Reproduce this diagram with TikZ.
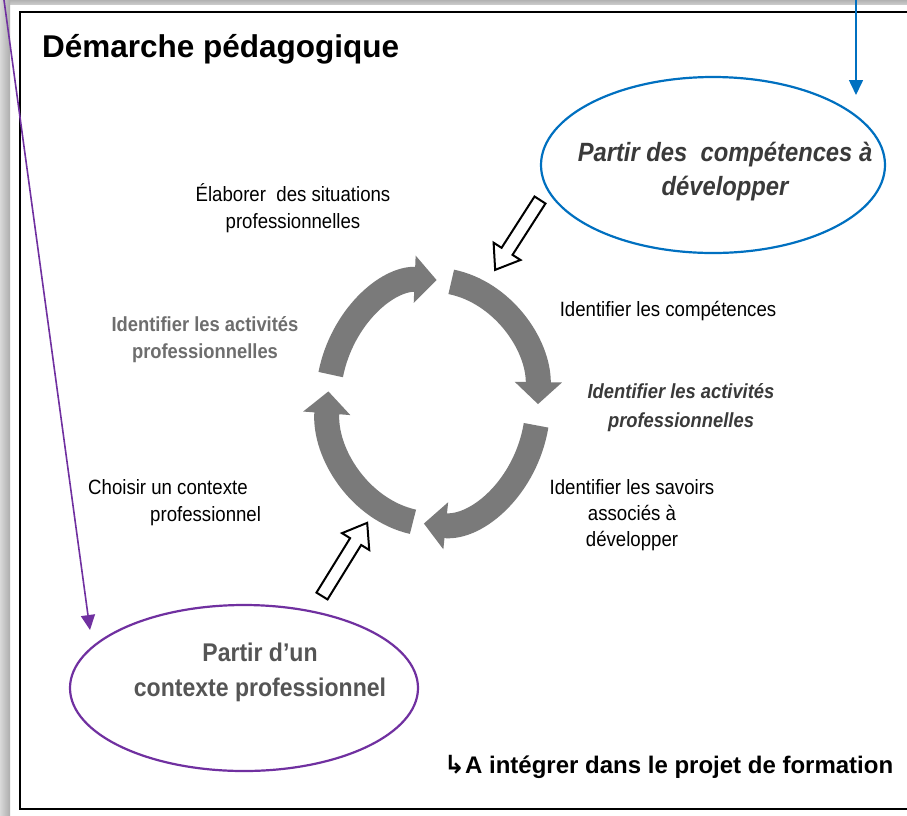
\documentclass[tikz,border=0pt]{standalone}
\usepackage{fontspec}
\setmainfont{Liberation Sans}
\newfontfamily\narrowf[FakeStretch=0.9]{Liberation Sans}
\newfontfamily\symf{DejaVu Sans}
\usetikzlibrary{arrows.meta,shapes.geometric}
\definecolor{cycgray}{HTML}{7A7A7A}
\definecolor{purp}{HTML}{7030A0}
\definecolor{bluel}{HTML}{0070C0}
\definecolor{txtgray}{HTML}{6E6E6E}
\definecolor{ellgray}{HTML}{555555}
\definecolor{darkit}{HTML}{3A3A3A}
\begin{document}
\begin{tikzpicture}[x=1pt,y=-1pt,
  body/.style={font=\narrowf\fontsize{20.7}{27}\selectfont, align=center, inner sep=0pt},
  bodybold/.style={font=\narrowf\bfseries\fontsize{20.4}{27}\selectfont, align=center, inner sep=0pt},
  cyc/.style={draw=cycgray, line width=25pt, -{Triangle[length=22pt,width=46pt]}},
  blk/.style={draw=black, line width=2pt, fill=white, line join=miter},
  ell/.style={ellipse, line width=2.2pt, inner sep=0pt},
  thinarrow/.style={line width=1.6pt, -{Triangle[length=15pt,width=14pt]}}
]
\useasboundingbox (0,0) rectangle (907,815);
\fill[white] (0,0) rectangle (907,815);
% page edges
\shade[top color=gray!60, bottom color=gray!40] (0,0) rectangle (907,4.5);
\shade[left color=gray!30, right color=gray!65] (0,0) rectangle (10,815);
% frame
\draw[line width=2.6pt] (907,12) -- (20,12) -- (20,809) -- (907,809);

% title
\node[anchor=base west, inner sep=0pt, font=\bfseries\fontsize{31.5}{36}\selectfont] (title) at (42,57) {Démarche pédagogique};

% cycle arrows
\coordinate (cc) at (433,402);
\draw[cyc] ([shift={(193:105 and 122)}]cc) arc[start angle=193, end angle=272, x radius=105, y radius=122];
\draw[cyc] ([shift={(280:105 and 122)}]cc) arc[start angle=280, end angle=361, x radius=105, y radius=122];
\draw[cyc] ([shift={(11:105 and 122)}]cc) arc[start angle=11, end angle=95, x radius=105, y radius=122];
\draw[cyc] ([shift={(101:105 and 122)}]cc) arc[start angle=101, end angle=185, x radius=105, y radius=122];

% hollow block arrows
\draw[blk, shift={(540,200)}, rotate=-122.7]
  (0,-6.5) -- (61,-6.5) -- (61,-16) -- (83,0) -- (61,16) -- (61,6.5) -- (0,6.5) -- cycle;
\draw[blk, shift={(322,596)}, rotate=58.3]
  (0,-6.5) -- (64,-6.5) -- (64,-16) -- (86,0) -- (64,16) -- (64,6.5) -- (0,6.5) -- cycle;

% ellipses
\node[ell, draw=bluel, minimum width=344pt, minimum height=176pt] (eblue) at (713,165) {};
\node[ell, draw=purp, minimum width=348pt, minimum height=166pt] (epurp) at (244,688) {};

% pointer arrows
\coordinate (bstart) at (856,0);
\coordinate (btip) at (856,95);
\draw[thinarrow, draw=bluel, fill=bluel] (bstart) -- (btip);
\coordinate (pstart) at (4,0);
\coordinate (ptip) at (90,630);
\draw[thinarrow, draw=purp, fill=purp] (pstart) -- (ptip);

% ellipse texts
\node[font=\narrowf\bfseries\itshape\fontsize{26.4}{34}\selectfont, text=darkit, align=center, inner sep=0pt] (tblue) at (725,172) {Partir des \ compétences à\\développer};
\node[font=\narrowf\bfseries\fontsize{25.6}{35}\selectfont, text=ellgray, align=center, inner sep=0pt] (tpurp) at (260,672) {Partir d’un\\contexte professionnel};

% labels
\node[body] (elab) at (293,208) {Élaborer \ des situations\\professionnelles};
\node[bodybold, text=txtgray] (idl) at (205,340) {Identifier les activités\\professionnelles};
\node[body, align=left, anchor=west] (chois) at (88,503) {Choisir un contexte\\\hspace*{62pt}professionnel};
\node[body] (comp) at (668,311) {Identifier les compétences};
\node[bodybold, font=\narrowf\bfseries\itshape\fontsize{20.4}{29}\selectfont, text=darkit] (idr) at (681,408) {Identifier les activités\\professionnelles};
\node[body, font=\narrowf\fontsize{20.7}{26}\selectfont] (sav) at (632,515) {Identifier les savoirs\\associés à\\développer};

% bottom note
\node[anchor=base west, inner sep=0pt, font=\bfseries\fontsize{24}{28}\selectfont] (note) at (444,773) {{\symf\fontsize{25}{28}\selectfont ↳}A intégrer dans le projet de formation};
\end{tikzpicture}
\end{document}
